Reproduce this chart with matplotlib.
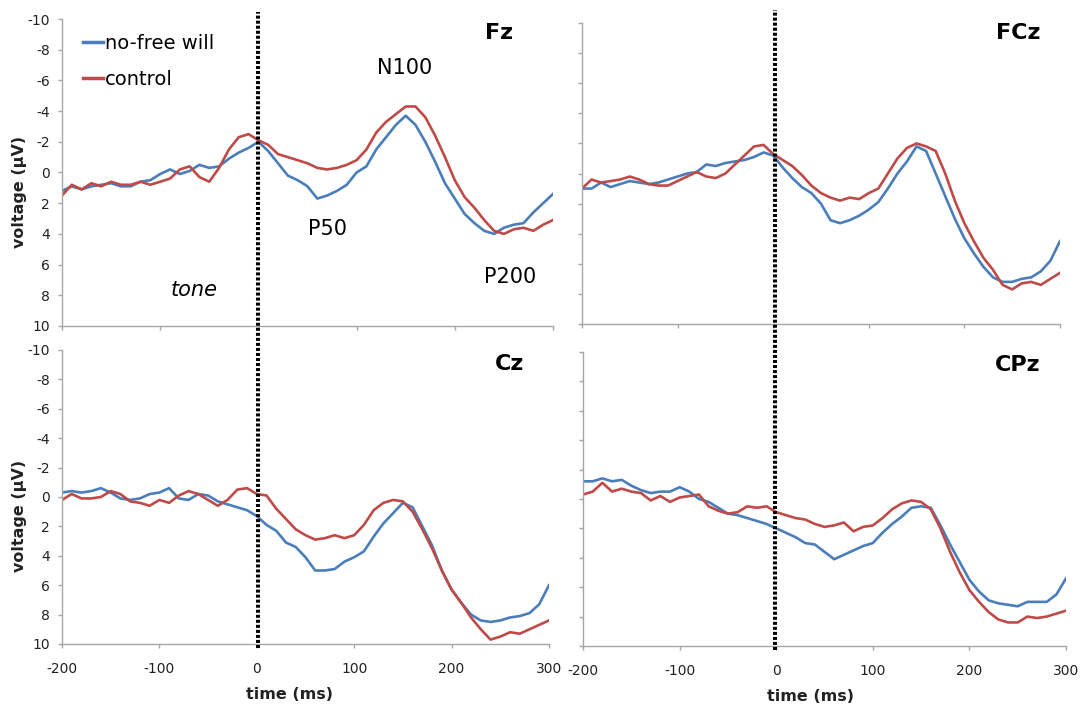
import matplotlib
matplotlib.use("Agg")
import matplotlib.pyplot as plt
from matplotlib.lines import Line2D

plt.rcParams['font.family'] = ['DejaVu Sans']
plt.rcParams['axes.unicode_minus'] = False

time_ms = list(range(-200, 301, 10))

fz_nofree = [1.2, 0.9, 1.1, 0.9, 0.8, 0.7, 0.9, 0.9, 0.6, 0.5, 0.1, -0.2, 0.1, -0.1, -0.5, -0.3, -0.4, -0.9, -1.3, -1.6,
             -2.0, -1.4, -0.6, 0.2, 0.5, 0.9, 1.7, 1.5, 1.2, 0.8, 0.0, -0.4, -1.5, -2.3, -3.1, -3.7, -3.1, -2.0, -0.7, 0.7,
             1.7, 2.7, 3.3, 3.8, 4.0, 3.6, 3.4, 3.3, 2.6, 2.0, 1.4]
fz_control = [1.5, 0.8, 1.1, 0.7, 0.9, 0.6, 0.8, 0.8, 0.6, 0.8, 0.6, 0.4, -0.2, -0.4, 0.3, 0.6, -0.3, -1.5, -2.3, -2.5,
              -2.1, -1.8, -1.2, -1.0, -0.8, -0.6, -0.3, -0.2, -0.3, -0.5, -0.8, -1.5, -2.6, -3.3, -3.8, -4.3, -4.3, -3.6, -2.4, -1.0,
              0.5, 1.6, 2.3, 3.1, 3.8, 4.0, 3.7, 3.6, 3.8, 3.4, 3.1]

fcz_nofree = [1.0, 1.0, 0.6, 0.9, 0.7, 0.5, 0.6, 0.7, 0.6, 0.4, 0.2, 0.0, -0.1, -0.6, -0.5, -0.7, -0.8, -0.9, -1.1, -1.4,
              -1.2, -0.4, 0.3, 0.9, 1.3, 2.0, 3.1, 3.3, 3.1, 2.8, 2.4, 1.9, 1.0, 0.0, -0.8, -1.8, -1.5, 0.0, 1.5, 3.0,
              4.3, 5.3, 6.2, 6.9, 7.2, 7.2, 7.0, 6.9, 6.5, 5.8, 4.5]
fcz_control = [1.0, 0.4, 0.6, 0.5, 0.4, 0.2, 0.4, 0.7, 0.8, 0.8, 0.5, 0.2, -0.1, 0.2, 0.3, 0.0, -0.6, -1.2, -1.8, -1.9,
               -1.3, -0.9, -0.5, 0.1, 0.8, 1.3, 1.6, 1.8, 1.6, 1.7, 1.3, 1.0, 0.0, -1.0, -1.7, -2.0, -1.8, -1.5, 0.0, 1.8,
               3.3, 4.5, 5.6, 6.4, 7.4, 7.7, 7.3, 7.2, 7.4, 7.0, 6.6]

cz_nofree = [-0.3, -0.4, -0.3, -0.4, -0.6, -0.3, 0.1, 0.2, 0.1, -0.2, -0.3, -0.6, 0.1, 0.2, -0.2, -0.1, 0.3, 0.5, 0.7, 0.9,
             1.3, 1.9, 2.3, 3.1, 3.4, 4.1, 5.0, 5.0, 4.9, 4.4, 4.1, 3.7, 2.7, 1.8, 1.1, 0.4, 0.7, 2.0, 3.3, 5.0,
             6.3, 7.2, 8.0, 8.4, 8.5, 8.4, 8.2, 8.1, 7.9, 7.3, 6.0]
cz_control = [0.2, -0.2, 0.1, 0.1, 0.0, -0.4, -0.2, 0.3, 0.4, 0.6, 0.2, 0.4, -0.1, -0.4, -0.2, 0.2, 0.6, 0.2, -0.5, -0.6,
              -0.2, -0.1, 0.8, 1.5, 2.2, 2.6, 2.9, 2.8, 2.6, 2.8, 2.6, 1.9, 0.9, 0.4, 0.2, 0.3, 1.0, 2.2, 3.5, 5.0,
              6.3, 7.2, 8.2, 9.0, 9.7, 9.5, 9.2, 9.3, 9.0, 8.7, 8.4]

cpz_nofree = [-1.2, -1.2, -1.4, -1.2, -1.3, -0.9, -0.6, -0.4, -0.5, -0.5, -0.8, -0.5, 0.0, 0.2, 0.6, 1.0, 1.1, 1.3, 1.5, 1.7,
              2.0, 2.3, 2.6, 3.0, 3.1, 3.6, 4.1, 3.8, 3.5, 3.2, 3.0, 2.3, 1.7, 1.2, 0.6, 0.5, 0.6, 1.8, 3.1, 4.3,
              5.5, 6.3, 6.9, 7.1, 7.2, 7.3, 7.0, 7.0, 7.0, 6.5, 5.4]
cpz_control = [-0.3, -0.5, -1.1, -0.5, -0.7, -0.5, -0.4, 0.1, -0.2, 0.2, -0.1, -0.2, -0.3, 0.5, 0.8, 1.0, 0.9, 0.5, 0.6, 0.5,
               0.9, 1.1, 1.3, 1.4, 1.7, 1.9, 1.8, 1.6, 2.2, 1.9, 1.8, 1.3, 0.7, 0.3, 0.1, 0.2, 0.7, 2.0, 3.6, 5.0,
               6.2, 7.0, 7.7, 8.2, 8.4, 8.4, 8.0, 8.1, 8.0, 7.8, 7.6]

channels = ['Fz', 'FCz', 'Cz', 'CPz']
series_labels = ['no-free will', 'control']
x_ticks = [-200, -100, 0, 100, 200, 300]
y_ticks = [-10, -8, -6, -4, -2, 0, 2, 4, 6, 8, 10]

data = {
    'Fz': (fz_nofree, fz_control),
    'FCz': (fcz_nofree, fcz_control),
    'Cz': (cz_nofree, cz_control),
    'CPz': (cpz_nofree, cpz_control),
}

BLUE = '#4a7ebb'
RED = '#be4b48'
SPINE = '#a6a6a6'
TEXT = '#222222'

fig = plt.figure(figsize=(10.89, 7.09), dpi=100)
positions = {
    'Fz': [0.0569, 0.5402, 0.4509, 0.4330],
    'FCz': [0.5344, 0.5430, 0.4389, 0.4245],
    'Cz': [0.0569, 0.0917, 0.4472, 0.4147],
    'CPz': [0.5354, 0.0889, 0.4435, 0.4147],
}
label_pos = {'Fz': (0.89, 0.954), 'FCz': (0.912, 0.967), 'Cz': (0.92, 0.952), 'CPz': (0.90, 0.956)}

axes = {}
for ch in channels:
    ax = fig.add_axes(positions[ch])
    ax.patch.set_alpha(0)
    axes[ch] = ax
    nf, ctl = data[ch]
    ax.plot(time_ms, nf, color=BLUE, lw=1.9, label=series_labels[0], solid_joinstyle='round')
    ax.plot(time_ms, ctl, color=RED, lw=1.9, label=series_labels[1], solid_joinstyle='round')
    ax.set_xlim(-200, 300)
    ax.set_ylim(10, -10)
    ax.set_xticks(x_ticks)
    ax.set_yticks(y_ticks)
    for s in ['top', 'right']:
        ax.spines[s].set_visible(False)
    for s in ['left', 'bottom']:
        ax.spines[s].set_color(SPINE)
        ax.spines[s].set_linewidth(1.0)
    ax.tick_params(axis='both', direction='out', length=3, width=1.0, color=SPINE,
                   labelsize=10, labelcolor=TEXT)
    ax.tick_params(axis='x', pad=10)
    ax.tick_params(axis='y', pad=5.5)
    ax.text(label_pos[ch][0], label_pos[ch][1], ch, transform=ax.transAxes, ha='center', va='center',
            fontsize=16, fontweight='bold', color='black')
    if ch in ('Fz', 'FCz'):
        ax.tick_params(axis='x', labelbottom=False)
    else:
        ax.set_xlabel('time (ms)', fontsize=11.5, fontweight='bold', color=TEXT)
        ax.xaxis.set_label_coords(0.468 if ch == 'Cz' else 0.47, -0.146)
    if ch in ('FCz', 'CPz'):
        ax.tick_params(axis='y', labelleft=False)
    else:
        ax.set_ylabel('voltage (µV)', fontsize=11.5, fontweight='bold', color=TEXT)
        ax.yaxis.set_label_coords(-0.071, 0.437)
    if ch == 'Fz':
        ax.text(149, -6.8, 'N100', ha='center', va='center', fontsize=15, color='black')
        ax.text(70, 3.7, 'P50', ha='center', va='center', fontsize=15, color='black')
        ax.text(256, 6.8, 'P200', ha='center', va='center', fontsize=15, color='black')
        ax.text(-65, 7.65, 'tone', ha='center', va='center', fontsize=15, style='italic', color='black')
        leg = ax.legend(loc='upper left', bbox_to_anchor=(0.0428, 0.952), frameon=False, fontsize=14,
                        handlelength=1.03, handletextpad=0.08, labelspacing=0.9,
                        borderpad=0, borderaxespad=0)
        for line in leg.get_lines():
            line.set_linewidth(2.5)

# stimulus-onset dotted lines, one per column spanning both panels
fig.canvas.draw()
inv = fig.transFigure.inverted()
for top, bottom, y0px, y1px in (('Fz', 'Cz', 12, 648), ('FCz', 'CPz', 10, 650)):
    xd = 0.5 * (axes[top].transData.transform((0, 0))[0] + axes[bottom].transData.transform((0, 0))[0])
    xf = inv.transform((xd, 0))[0]
    fig.add_artist(Line2D([xf, xf], [1 - y1px / 709, 1 - y0px / 709], transform=fig.transFigure,
                          color='black', lw=2.9, linestyle=(0, (0.75, 0.5)), zorder=10))

fig.savefig('out.png', dpi=100)
